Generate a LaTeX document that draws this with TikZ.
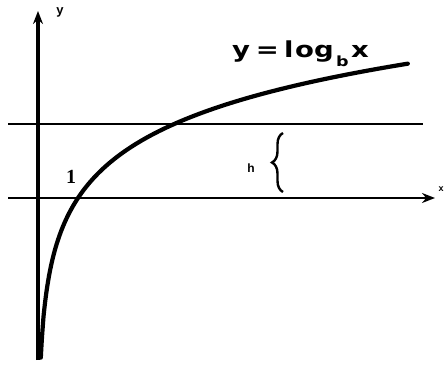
\documentclass[tikz,border=0pt]{standalone}
\usepackage{fontspec}
\setmainfont{Liberation Sans}
\newfontfamily\eqfont{DejaVu Sans}
\newfontfamily\onefont{Liberation Serif}
\usetikzlibrary{arrows.meta,decorations.pathreplacing}
\newcommand{\gl}[2]{\makebox[#1pt][l]{#2}}
\begin{document}
\begin{tikzpicture}[x=1pt,y=-1pt,
  axis/.style={line width=2.6pt,-{Stealth[length=13pt,width=10pt]}},
  hline/.style={line width=2.6pt},
  curve/.style={line width=4.2pt,line cap=round},
  lbl/.style={font=\fontsize{11}{11}\selectfont\bfseries,inner sep=0pt}]
\useasboundingbox (0,0) rectangle (444,367);
\coordinate (yb) at (38,360);
\coordinate (yt) at (38,11);
\coordinate (xl) at (8,198);
\coordinate (xr) at (435,198);
\coordinate (hl) at (8,124);
\coordinate (hr) at (423,124);
\draw[axis,line width=3.4pt] (yb) -- (yt);
\draw[axis] (xl) -- (xr);
\draw[hline] (hl) -- (hr);
\draw[curve] plot[domain=0.07:9.25,samples=400,smooth] ({38+40*\x},{198-60.4*ln(\x)});
\node[lbl,font=\fontsize{13}{13}\selectfont\bfseries] (ylab) at (60,12) {y};
\node[lbl,font=\fontsize{9}{9}\selectfont\bfseries] (xlab) at (441,189) {x};
\node[font=\onefont\fontsize{20}{20}\selectfont\bfseries,inner sep=0pt] (one) at (71,177) {1};
\node[inner sep=0pt,anchor=base west] (eq) at (232,57)
  {\scalebox{1.25}[1]{\eqfont\bfseries\fontsize{22}{22}\selectfont
   \gl{19}{y}\gl{22.6}{=}\gl{8.8}{l}\gl{15.2}{o}\gl{17.5}{g}\gl{12}{\raisebox{-9pt}{\fontsize{14}{14}\selectfont b}}x}};
\node[lbl,font=\fontsize{12}{12}\selectfont\bfseries] (h) at (251,168) {h};
\coordinate (bb) at (283,192);
\coordinate (bt) at (283,133);
\draw[line width=2.4pt,decorate,decoration={brace,amplitude=11pt}] (bb) -- (bt);
\end{tikzpicture}
\end{document}
